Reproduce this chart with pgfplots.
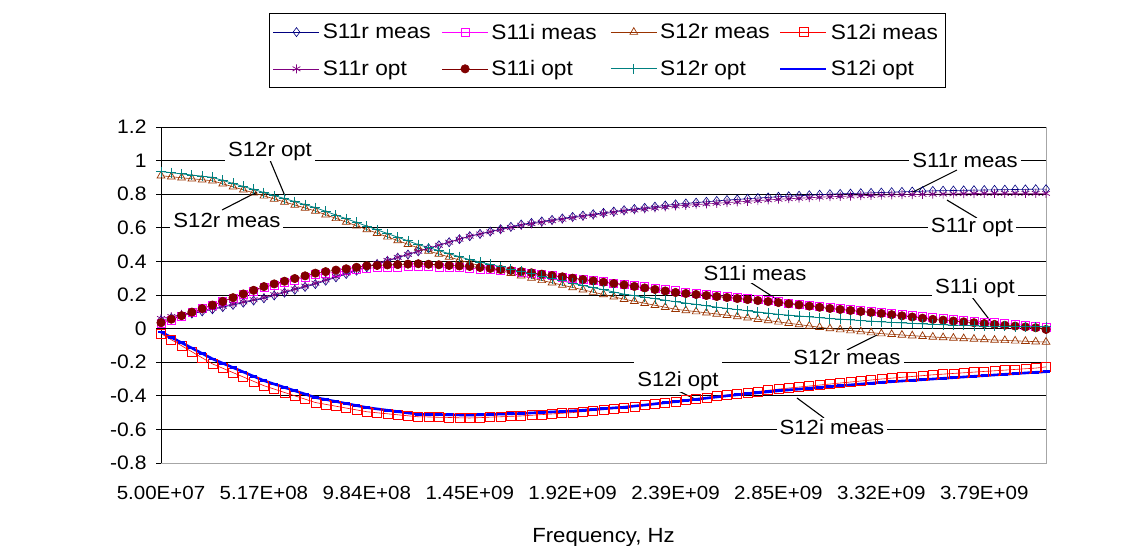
\documentclass[border=0pt]{standalone}
\usepackage{fontspec}
\setmainfont{Liberation Sans}[FakeStretch=1.08]
\usepackage{pgfplots}
\pgfplotsset{compat=1.18}
\usepackage{pgfplotstable}

\definecolor{cA}{RGB}{0,0,128}
\definecolor{cB}{RGB}{255,0,255}
\definecolor{cC}{RGB}{153,51,0}
\definecolor{cD}{RGB}{255,0,0}
\definecolor{cE}{RGB}{128,0,128}
\definecolor{cF}{RGB}{128,0,0}
\definecolor{cG}{RGB}{0,128,128}
\definecolor{cH}{RGB}{0,0,255}

\pgfplotstableread{
i A B C D E F G H
0 0.050 0.030 0.910 -0.030 0.060 0.035 0.935 -0.020
1 0.063 0.052 0.904 -0.066 0.072 0.056 0.928 -0.052
2 0.076 0.074 0.898 -0.102 0.084 0.077 0.921 -0.084
3 0.089 0.096 0.892 -0.138 0.096 0.098 0.914 -0.116
4 0.102 0.118 0.886 -0.174 0.108 0.119 0.907 -0.148
5 0.115 0.140 0.880 -0.210 0.120 0.140 0.900 -0.180
6 0.128 0.161 0.862 -0.236 0.133 0.162 0.882 -0.206
7 0.141 0.182 0.844 -0.262 0.146 0.184 0.864 -0.232
8 0.154 0.203 0.826 -0.288 0.159 0.206 0.846 -0.258
9 0.167 0.224 0.808 -0.314 0.172 0.228 0.828 -0.284
10 0.180 0.245 0.790 -0.340 0.185 0.250 0.810 -0.310
11 0.197 0.260 0.772 -0.360 0.202 0.266 0.792 -0.330
12 0.214 0.275 0.754 -0.380 0.219 0.282 0.774 -0.350
13 0.231 0.290 0.736 -0.400 0.236 0.298 0.756 -0.370
14 0.248 0.305 0.718 -0.420 0.253 0.314 0.738 -0.390
15 0.265 0.320 0.700 -0.440 0.270 0.330 0.720 -0.410
16 0.285 0.328 0.678 -0.451 0.290 0.339 0.698 -0.422
17 0.305 0.336 0.656 -0.462 0.310 0.348 0.676 -0.434
18 0.325 0.344 0.634 -0.473 0.330 0.356 0.654 -0.446
19 0.345 0.352 0.612 -0.484 0.350 0.365 0.632 -0.458
20 0.365 0.360 0.590 -0.495 0.370 0.374 0.610 -0.470
21 0.384 0.362 0.568 -0.501 0.388 0.376 0.588 -0.478
22 0.403 0.364 0.546 -0.507 0.406 0.379 0.566 -0.486
23 0.422 0.366 0.524 -0.513 0.424 0.381 0.544 -0.494
24 0.441 0.368 0.502 -0.519 0.442 0.384 0.522 -0.502
25 0.460 0.370 0.480 -0.525 0.460 0.386 0.500 -0.510
26 0.478 0.368 0.462 -0.526 0.478 0.383 0.482 -0.511
27 0.496 0.366 0.444 -0.528 0.496 0.380 0.464 -0.512
28 0.514 0.364 0.426 -0.529 0.514 0.376 0.446 -0.513
29 0.532 0.362 0.408 -0.531 0.532 0.373 0.428 -0.514
30 0.550 0.360 0.390 -0.532 0.550 0.370 0.410 -0.515
31 0.564 0.355 0.375 -0.530 0.563 0.364 0.396 -0.513
32 0.578 0.350 0.360 -0.527 0.576 0.358 0.382 -0.511
33 0.592 0.345 0.345 -0.525 0.589 0.352 0.368 -0.509
34 0.606 0.340 0.330 -0.522 0.602 0.346 0.354 -0.507
35 0.620 0.335 0.315 -0.520 0.615 0.340 0.340 -0.505
36 0.629 0.328 0.301 -0.516 0.624 0.332 0.326 -0.502
37 0.638 0.321 0.287 -0.512 0.633 0.324 0.312 -0.499
38 0.647 0.314 0.273 -0.508 0.642 0.316 0.298 -0.496
39 0.656 0.307 0.259 -0.504 0.651 0.308 0.284 -0.493
40 0.665 0.300 0.245 -0.500 0.660 0.300 0.270 -0.490
41 0.673 0.293 0.231 -0.494 0.668 0.292 0.257 -0.486
42 0.681 0.286 0.217 -0.488 0.676 0.284 0.244 -0.481
43 0.689 0.279 0.203 -0.482 0.684 0.276 0.231 -0.477
44 0.697 0.272 0.189 -0.476 0.692 0.268 0.218 -0.472
45 0.705 0.265 0.175 -0.470 0.700 0.260 0.205 -0.468
46 0.712 0.257 0.163 -0.463 0.706 0.251 0.196 -0.461
47 0.719 0.249 0.151 -0.456 0.712 0.242 0.187 -0.455
48 0.726 0.241 0.139 -0.449 0.718 0.233 0.178 -0.448
49 0.733 0.233 0.127 -0.442 0.724 0.224 0.169 -0.441
50 0.740 0.225 0.115 -0.435 0.730 0.215 0.160 -0.435
51 0.745 0.218 0.108 -0.427 0.734 0.209 0.152 -0.428
52 0.750 0.211 0.101 -0.419 0.738 0.203 0.144 -0.421
53 0.755 0.204 0.094 -0.411 0.742 0.197 0.136 -0.414
54 0.760 0.197 0.087 -0.403 0.746 0.191 0.128 -0.407
55 0.765 0.190 0.080 -0.395 0.750 0.185 0.120 -0.400
56 0.769 0.184 0.072 -0.388 0.754 0.179 0.113 -0.394
57 0.773 0.178 0.064 -0.381 0.758 0.173 0.106 -0.388
58 0.777 0.172 0.056 -0.374 0.762 0.167 0.099 -0.382
59 0.781 0.166 0.048 -0.367 0.766 0.161 0.092 -0.376
60 0.785 0.160 0.040 -0.360 0.770 0.155 0.085 -0.370
61 0.788 0.153 0.032 -0.354 0.773 0.148 0.080 -0.365
62 0.791 0.146 0.024 -0.348 0.776 0.141 0.075 -0.360
63 0.794 0.139 0.016 -0.342 0.779 0.134 0.070 -0.355
64 0.797 0.132 0.008 -0.336 0.782 0.127 0.065 -0.350
65 0.800 0.125 0.000 -0.330 0.785 0.120 0.060 -0.345
66 0.802 0.119 -0.006 -0.324 0.787 0.114 0.056 -0.340
67 0.804 0.113 -0.012 -0.318 0.789 0.108 0.052 -0.335
68 0.806 0.107 -0.018 -0.312 0.791 0.102 0.048 -0.330
69 0.808 0.101 -0.024 -0.306 0.793 0.096 0.044 -0.325
70 0.810 0.095 -0.030 -0.300 0.795 0.090 0.040 -0.320
71 0.812 0.089 -0.034 -0.295 0.796 0.083 0.037 -0.316
72 0.814 0.083 -0.038 -0.290 0.797 0.076 0.034 -0.312
73 0.816 0.077 -0.042 -0.285 0.798 0.069 0.031 -0.308
74 0.818 0.071 -0.046 -0.280 0.799 0.062 0.028 -0.304
75 0.820 0.065 -0.050 -0.275 0.800 0.055 0.025 -0.300
76 0.821 0.060 -0.053 -0.271 0.801 0.050 0.023 -0.296
77 0.822 0.055 -0.056 -0.267 0.802 0.045 0.021 -0.292
78 0.823 0.050 -0.059 -0.263 0.803 0.040 0.019 -0.288
79 0.824 0.045 -0.062 -0.259 0.804 0.035 0.017 -0.284
80 0.825 0.040 -0.065 -0.255 0.805 0.030 0.015 -0.280
81 0.826 0.035 -0.068 -0.251 0.805 0.025 0.014 -0.276
82 0.827 0.030 -0.070 -0.247 0.805 0.020 0.013 -0.272
83 0.828 0.025 -0.073 -0.243 0.805 0.015 0.012 -0.268
84 0.829 0.020 -0.075 -0.239 0.805 0.010 0.011 -0.264
85 0.830 0.015 -0.078 -0.235 0.805 0.005 0.010 -0.260
86 0.830 0.010 -0.080 -0.228 0.805 -0.005 0.010 -0.257
}\data

\newcommand{\lgd}[1]{\makebox[108bp][l]{#1}}

\begin{document}
\begin{tikzpicture}[font=\fontsize{20.5bp}{24bp}\selectfont]
\useasboundingbox (0,0) rectangle (1138bp,546bp);
\begin{axis}[
  at={(161bp,83bp)}, anchor=south west,
  scale only axis, width=885bp, height=336bp,
  xmin=0, xmax=86, ymin=-0.8, ymax=1.2,
  clip=false,
  axis background/.style={draw=gray!70, line width=0.8bp},
  axis x line=bottom, axis y line=left,
  x axis line style={-, draw=gray!70, line width=0.8bp},
  y axis line style={-, draw=black, line width=0.8bp},
  xtick={0,10,20,30,40,50,60,70,80},
  xticklabels={5.00E+07,5.17E+08,9.84E+08,1.45E+09,1.92E+09,2.39E+09,2.85E+09,3.32E+09,3.79E+09},
  xtick style={draw=none},
  xticklabel style={yshift=-15bp, font=\fontsize{19bp}{22bp}\selectfont},
  ytick={-0.8,-0.6,-0.4,-0.2,0,0.2,0.4,0.6,0.8,1,1.2},
  yticklabels={-0.8,-0.6,-0.4,-0.2,0,0.2,0.4,0.6,0.8,1,1.2},
  tick align=outside, major tick length=5bp,
  ytick style={draw=black, line width=0.8bp},
  yticklabel style={xshift=-6bp, font=\fontsize{19.5bp}{22bp}\selectfont},
  ymajorgrids, major grid style={draw=black, line width=0.8bp},
  xlabel={Frequency, Hz},
  every axis x label/.style={at={(axis description cs:0.5,0)}, anchor=center, yshift=-75bp},
  legend columns=4,
  legend cell align=left,
  legend image code/.code={\draw[mark repeat=2,mark phase=2] plot coordinates {(0bp,0bp) (23bp,0bp) (46bp,0bp)};},
  legend style={at={(axis description cs:0.5045,1.2277)}, anchor=center,
    draw=black, line width=0.8bp, fill=white, inner xsep=4bp, inner ysep=8bp,
    row sep=16bp, nodes={inner xsep=3bp},
    /tikz/every even column/.append style={column sep=8bp},
    font=\fontsize{21bp}{24bp}\selectfont},
]
\addplot[cA, line width=0.6bp, mark=diamond, mark size=4.5bp, mark options={fill=white, solid, line width=0.6bp}] table[x=i,y=A]{\data};
\addlegendentry{\lgd{S11r meas}}
\addplot[cB, line width=0.6bp, mark=square, mark size=4bp, mark options={fill=white, solid, line width=0.7bp}] table[x=i,y=B]{\data};
\addlegendentry{\lgd{S11i meas}}
\addplot[cC, line width=0.6bp, mark=triangle, mark size=4.5bp, mark options={fill=white, solid, line width=0.7bp}] table[x=i,y=C]{\data};
\addlegendentry{\lgd{S12r meas}}
\addplot[cD, line width=0.6bp, mark=square, mark size=4.5bp, mark options={fill=white, solid, line width=0.7bp}] table[x=i,y=D]{\data};
\addlegendentry{\lgd{S12i meas}}
\addplot[cE, line width=0.6bp, mark=asterisk, mark size=4.5bp, mark options={solid, line width=0.7bp}] table[x=i,y=E]{\data};
\addlegendentry{\lgd{S11r opt}}
\addplot[cF, line width=0.6bp, mark=*, mark size=4.2bp, mark options={fill=cF, solid}] table[x=i,y=F]{\data};
\addlegendentry{\lgd{S11i opt}}
\addplot[cG, line width=0.8bp, mark=+, mark size=5bp, mark options={solid, line width=0.9bp}] table[x=i,y=G]{\data};
\addlegendentry{\lgd{S12r opt}}
\addplot[cH, line width=2.6bp, mark=-, mark size=3.5bp, mark options={solid, line width=2.6bp}] table[x=i,y=H]{\data};
\addlegendentry{\lgd{S12i opt}}

% annotation leader lines
\draw[black, line width=1.1bp] (axis cs:10.59,1.003) -- (axis cs:12.05,0.789);
\draw[black, line width=1.1bp] (axis cs:5.93,0.706) -- (axis cs:9.33,0.813);
\draw[black, line width=1.1bp] (axis cs:77.35,0.944) -- (axis cs:73.07,0.813);
\draw[black, line width=1.1bp] (axis cs:79.29,0.658) -- (axis cs:76.38,0.765);
\draw[black, line width=1.1bp] (axis cs:57.23,0.277) -- (axis cs:59.95,0.170);
\draw[black, line width=1.1bp] (axis cs:78.81,0.188) -- (axis cs:80.75,0.033);
\draw[black, line width=1.1bp] (axis cs:66.66,-0.127) -- (axis cs:69.58,-0.038);
\draw[black, line width=1.1bp] (axis cs:49.46,-0.347) -- (axis cs:52.08,-0.425);
\draw[black, line width=1.1bp] (axis cs:64.43,-0.532) -- (axis cs:61.80,-0.413);
% annotation labels
\node[fill=white, inner xsep=3bp, inner ysep=1bp] at (axis cs:10.59,1.057) {S12r opt};
\node[fill=white, inner xsep=3bp, inner ysep=1bp] at (axis cs:6.41,0.646) {S12r meas};
\node[fill=white, inner xsep=3bp, inner ysep=1bp] at (axis cs:78.13,0.998) {S11r meas};
\node[fill=white, inner xsep=3bp, inner ysep=1bp] at (axis cs:78.81,0.599) {S11r opt};
\node[fill=white, inner xsep=3bp, inner ysep=2bp] at (axis cs:57.72,0.331) {S11i meas};
\node[fill=white, inner xsep=3bp, inner ysep=1bp] at (axis cs:79.10,0.242) {S11i opt};
\node[fill=white, inner xsep=3bp, inner ysep=1bp] at (axis cs:66.66,-0.174) {S12r meas};
\node[fill=white, inner xsep=3bp, inner ysep=1bp, text depth=4bp, text height=24bp] at (axis cs:50.24,-0.288) {S12i opt};
\node[fill=white, inner xsep=3bp, inner ysep=1bp] at (axis cs:65.20,-0.585) {S12i meas};
\end{axis}
\end{tikzpicture}
\end{document}
